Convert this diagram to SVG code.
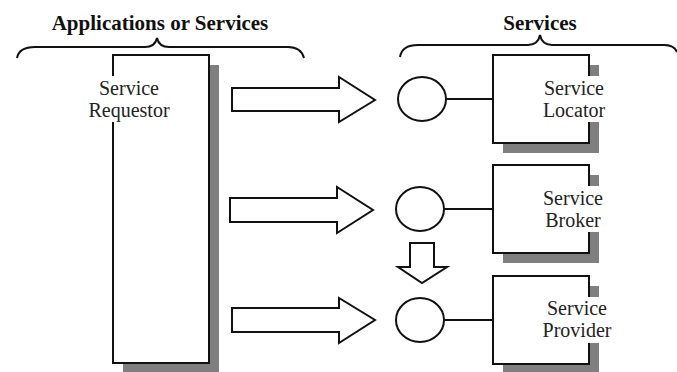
<svg xmlns="http://www.w3.org/2000/svg" width="677" height="372" viewBox="0 0 677 372">
  <style>
    .bg { fill: #ffffff; }
    .box { fill: #ffffff; stroke: #111111; stroke-width: 2; }
    .shadow { fill: #7f7f7f; }
    .mask { fill: #ffffff; }
    .label { font-family: 'Liberation Serif', 'DejaVu Serif', serif; font-size: 20px; fill: #222222; text-anchor: middle; }
    .head { font-family: 'Liberation Serif', 'DejaVu Serif', serif; font-size: 21px; font-weight: bold; fill: #111111; text-anchor: middle; }
    .brace { fill: none; stroke: #111111; stroke-width: 2; }
    .port { fill: #ffffff; stroke: #111111; stroke-width: 2; }
    .wire { stroke: #111111; stroke-width: 2; }
    .flow { fill: #ffffff; stroke: #111111; stroke-width: 2; stroke-linejoin: miter; }
  </style>

  <rect class="bg" x="0" y="0" width="677" height="372"/>

  <!-- group headings with braces -->
  <g id="apps-heading">
    <text class="head" x="160" y="30">Applications or Services</text>
    <path class="brace" d="M17,58 Q19,47 35,47 L145,47 Q155,47 157,38 Q159,47 169,47 L288,47 Q301,47 304,58"/>
  </g>
  <g id="services-heading">
    <text class="head" x="540" y="30">Services</text>
    <path class="brace" d="M400,57 Q402,45 418,45 L528,45 Q538,45 540,35 Q542,45 552,45 L664,45 Q674,45 677,52"/>
  </g>

  <!-- requesting application -->
  <g id="service-requestor">
    <rect class="shadow" x="123" y="65" width="96" height="310"/>
    <rect class="box" x="113" y="55" width="96" height="308"/>
    <rect class="mask" x="84" y="76" width="90" height="46"/>
    <text class="label" x="129" y="95">Service</text>
    <text class="label" x="129" y="117">Requestor</text>
  </g>

  <!-- services with their interface ports -->
  <g id="service-locator">
    <rect class="shadow" x="503" y="65" width="96" height="88"/>
    <rect class="box" x="493" y="55" width="96" height="88"/>
    <rect class="mask" x="538" y="76" width="72" height="46"/>
    <text class="label" x="574" y="95">Service</text>
    <text class="label" x="574" y="117">Locator</text>
    <ellipse class="port" cx="422" cy="99" rx="24" ry="22"/>
    <line class="wire" x1="446" y1="99" x2="493" y2="99"/>
  </g>

  <g id="service-broker">
    <rect class="shadow" x="503" y="175" width="96" height="88"/>
    <rect class="box" x="493" y="165" width="96" height="88"/>
    <rect class="mask" x="538" y="186" width="72" height="46"/>
    <text class="label" x="573" y="205">Service</text>
    <text class="label" x="573" y="227">Broker</text>
    <ellipse class="port" cx="420" cy="209" rx="24" ry="22"/>
    <line class="wire" x1="444" y1="209" x2="493" y2="209"/>
  </g>

  <g id="service-provider">
    <rect class="shadow" x="503" y="286" width="96" height="90"/>
    <rect class="box" x="493" y="276" width="96" height="88"/>
    <rect class="mask" x="538" y="297" width="78" height="46"/>
    <text class="label" x="577" y="315">Service</text>
    <text class="label" x="577" y="337">Provider</text>
    <ellipse class="port" cx="420" cy="320" rx="24" ry="22"/>
    <line class="wire" x1="444" y1="320" x2="493" y2="320"/>
  </g>

  <!-- block arrows -->
  <g id="connectors">
    <polygon class="flow" points="232,88 339,88 339,77 375,100 339,122 339,111 232,111"/>
    <polygon class="flow" points="230,198 337,198 337,187 373,210 337,233 337,222 230,222"/>
    <polygon class="flow" points="232,308 339,308 339,298 375,320 339,343 339,332 232,332"/>
    <polygon class="flow" points="410,243 434,243 434,267 447,267 422,283 398,267 410,267"/>
  </g>
</svg>
